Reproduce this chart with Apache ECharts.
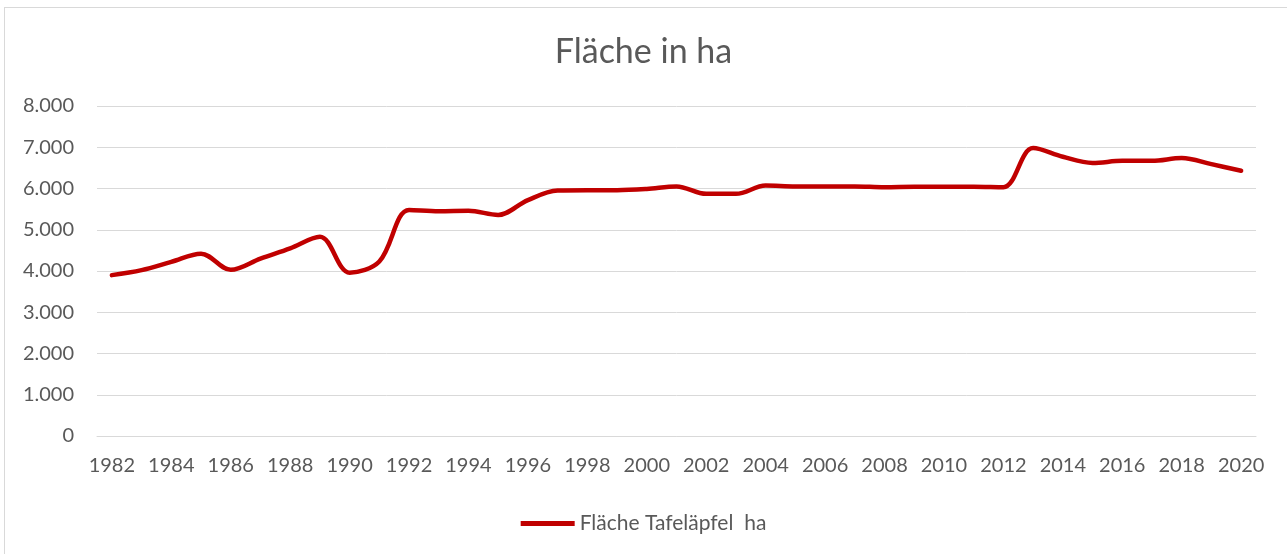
<!DOCTYPE html>
<html>
<head>
<meta charset="utf-8">
<script src="https://cdn.jsdelivr.net/npm/echarts@6/dist/echarts.min.js"></script>
<style>
  html, body { margin: 0; padding: 0; background: #fff; }
  #frame { position: absolute; left: 4px; top: 7px; width: 1300px; height: 600px; border-left: 1px solid #d9d9d9; border-top: 1px solid #d9d9d9; }
  #main { position: absolute; left: 0; top: 0; width: 1287px; height: 554px; }
</style>
</head>
<body>
<div id="frame"></div>
<div id="main"></div>
<script>
// Jahre 1982 - 2020
const years = ['1982', '1983', '1984', '1985', '1986', '1987', '1988', '1989', '1990', '1991',
  '1992', '1993', '1994', '1995', '1996', '1997', '1998', '1999', '2000', '2001',
  '2002', '2003', '2004', '2005', '2006', '2007', '2008', '2009', '2010', '2011',
  '2012', '2013', '2014', '2015', '2016', '2017', '2018', '2019', '2020']
// Fläche Tafeläpfel in ha
const flaeche = [3900, 4020, 4220, 4420, 4030, 4300, 4550, 4830, 3960, 4230,
  5480, 5450, 5460, 5360, 5720, 5950, 5960, 5960, 5990, 6050,
  5870, 5870, 6070, 6050, 6050, 6050, 6030, 6040, 6040, 6040,
  6030, 6980, 6770, 6620, 6670, 6670, 6740, 6590, 6430]
const yTicks = [0, 1000, 2000, 3000, 4000, 5000, 6000, 7000, 8000]

const chart = echarts.init(document.getElementById('main'))
const textColor = '#595959'
const font = 'Lato'

let option = {
  backgroundColor: 'transparent',
  animation: false,
  title: {
    text: 'Fläche in ha',
    left: 'center',
    top: 30,
    textStyle: { fontFamily: font, fontSize: 34, fontWeight: 'normal', color: textColor }
  },
  legend: {
    data: ['Fläche Tafeläpfel  ha'],
    left: 'center',
    top: 508,
    icon: 'rect',
    itemWidth: 54,
    itemHeight: 5,
    itemGap: 5,
    textStyle: { fontFamily: font, fontSize: 21, color: textColor }
  },
  grid: {
    left: 97,
    right: 31,
    top: 106,
    bottom: 118
  },
  xAxis: {
    type: 'category',
    data: years,
    boundaryGap: true,
    axisTick: { show: false },
    axisLine: { lineStyle: { color: '#d9d9d9', width: 1 } },
    axisLabel: {
      interval: 1,
      margin: 20,
      fontFamily: font,
      fontSize: 20,
      color: textColor
    }
  },
  yAxis: {
    type: 'value',
    min: yTicks[0],
    max: yTicks[yTicks.length - 1],
    interval: 1000,
    axisLine: { show: false },
    axisTick: { show: false },
    splitLine: { lineStyle: { color: '#d9d9d9', width: 1 } },
    axisLabel: {
      margin: 23,
      fontFamily: font,
      fontSize: 20,
      color: textColor,
      formatter: function (v) {
        return String(v).replace(/\B(?=(\d{3})+(?!\d))/g, '.')
      }
    }
  },
  series: [{
    name: 'Fläche Tafeläpfel  ha',
    type: 'line',
    data: flaeche,
    smooth: 0.35,
    symbol: 'none',
    lineStyle: { color: '#c00000', width: 4.5, cap: 'round' },
    itemStyle: { color: '#c00000' }
  }]
}
chart.setOption(option)
</script>
</body>
</html>
